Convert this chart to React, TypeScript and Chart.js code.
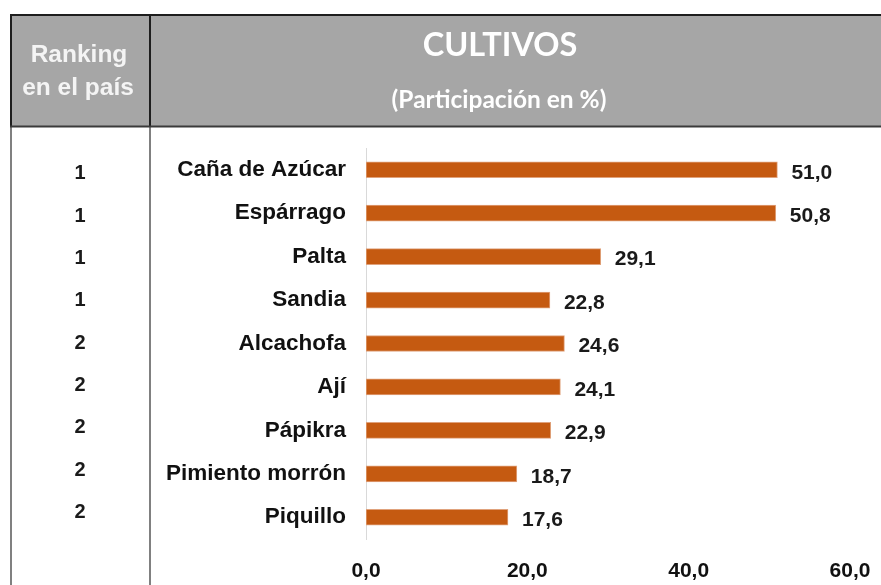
import React, { useEffect, useRef } from "react";
import { Chart, registerables } from "chart.js";

Chart.register(...registerables);

const categories = [
  "Caña de Azúcar",
  "Espárrago",
  "Palta",
  "Sandia",
  "Alcachofa",
  "Ají",
  "Pápikra",
  "Pimiento morrón",
  "Piquillo",
];
const participation = [51.0, 50.8, 29.1, 22.8, 24.6, 24.1, 22.9, 18.7, 17.6];
const rankings = [1, 1, 1, 1, 2, 2, 2, 2, 2];
const titleText = "CULTIVOS";
const subtitleText = "(Participación en %)";
const rankHeader = ["Ranking", "en el país"];

const fmt = (v: number) => v.toFixed(1).replace(".", ",");

const SANS = "'Liberation Sans', Arimo, Arial, sans-serif";
const TITLE = "Lato, 'Open Sans', sans-serif";

const tablePlugin = {
  id: "tablePlugin",
  beforeDraw(chart: any) {
    const ctx = chart.ctx;
    const W = chart.width;
    const H = chart.height;
    ctx.save();
    ctx.fillStyle = "#ffffff";
    ctx.fillRect(0, 0, W, H);
    ctx.fillStyle = "#a6a6a6";
    ctx.fillRect(10, 15, W - 10, 112);
    ctx.strokeStyle = "#808080";
    ctx.lineWidth = 2;
    ctx.beginPath();
    ctx.moveTo(11, 127);
    ctx.lineTo(11, H);
    ctx.moveTo(150, 127);
    ctx.lineTo(150, H);
    ctx.stroke();
    ctx.strokeStyle = "#1e1e1e";
    ctx.beginPath();
    ctx.moveTo(10, 15);
    ctx.lineTo(W, 15);
    ctx.moveTo(11, 15);
    ctx.lineTo(11, 127);
    ctx.moveTo(150, 15);
    ctx.lineTo(150, 127);
    ctx.stroke();
    ctx.strokeStyle = "#3a3a3a";
    ctx.beginPath();
    ctx.moveTo(10, 126.5);
    ctx.lineTo(W, 126.5);
    ctx.stroke();
    ctx.fillStyle = "#f4f4f4";
    ctx.textAlign = "center";
    ctx.textBaseline = "middle";
    ctx.font = `bold 24.5px ${SANS}`;
    ctx.fillText(rankHeader[0], 79, 55);
    ctx.fillText(rankHeader[1], 78, 88);
    ctx.fillStyle = "#ffffff";
    ctx.font = `bold 32.5px ${TITLE}`;
    ctx.fillText(titleText, 500, 46);
    ctx.font = `bold 24.5px ${TITLE}`;
    ctx.fillText(subtitleText, 499, 100);
    ctx.restore();
  },
  afterDatasetsDraw(chart: any) {
    const ctx = chart.ctx;
    const meta = chart.getDatasetMeta(0);
    const y0 = meta.data[0].y;
    ctx.save();
    ctx.fillStyle = "#1a1a1a";
    ctx.textBaseline = "middle";
    ctx.font = `bold 21px ${SANS}`;
    ctx.textAlign = "left";
    meta.data.forEach((bar: any, i: number) => {
      ctx.fillText(fmt(participation[i]), bar.x + 14, bar.y + 3);
    });
    ctx.textAlign = "center";
    ctx.font = `bold 20px ${SANS}`;
    meta.data.forEach((bar: any, i: number) => {
      const yr = y0 + 4 + (bar.y - y0) * 0.975;
      ctx.fillText(String(rankings[i]), 80, yr);
    });
    ctx.restore();
  },
};

export default function App() {
  const ref = useRef<HTMLCanvasElement>(null);
  useEffect(() => {
    let chart: any = null;
    let cancelled = false;
    const fontsToLoad = ["bold 21px 'Liberation Sans'", "bold 31px Lato"];
    const loads = (document as any).fonts
      ? Promise.all(fontsToLoad.map((f) => (document as any).fonts.load(f).catch(() => null)))
      : Promise.resolve([]);
    loads.then(() => {
      if (cancelled || !ref.current) return;
      chart = new Chart(ref.current, {
        type: "bar",
        data: {
          labels: categories,
          datasets: [
            {
              data: participation,
              backgroundColor: "#c55a11",
              borderColor: "#e0a27c",
              borderWidth: 1,
              borderSkipped: false,
              barThickness: 16,
            },
          ],
        },
        options: {
          indexAxis: "y",
          responsive: false,
          animation: false,
          devicePixelRatio: 1,
          layout: { padding: { left: 150, top: 148, right: 31, bottom: 0 } },
          plugins: {
            legend: { display: false },
            tooltip: { enabled: false },
            title: { display: false },
          },
          scales: {
            x: {
              min: 0,
              max: 60,
              ticks: {
                stepSize: 20,
                callback: (v: any) => fmt(Number(v)),
                font: { family: SANS, size: 21, weight: "bold" },
                color: "#111111",
                padding: 20,
              },
              grid: { display: false, drawTicks: false },
              border: { display: false },
              afterFit: (s: any) => {
                s.height = 46;
                s.paddingRight = 0;
                s.paddingLeft = 0;
              },
            },
            y: {
              ticks: {
                font: { family: SANS, size: 22.5, weight: "bold" },
                color: "#111111",
                padding: 20,
              },
              grid: { display: false, drawTicks: false },
              border: { display: true, color: "#d9d9d9", width: 1 },
              afterFit: (s: any) => {
                s.width = 216;
                s.paddingTop = 0;
                s.paddingBottom = 0;
              },
            },
          },
        },
        plugins: [tablePlugin],
      });
    });
    return () => {
      cancelled = true;
      if (chart) chart.destroy();
    };
  }, []);
  return (
    <div style={{ position: "absolute", left: 0, top: 0, width: 881, height: 585 }}>
      <canvas ref={ref} width={881} height={585} />
    </div>
  );
}
